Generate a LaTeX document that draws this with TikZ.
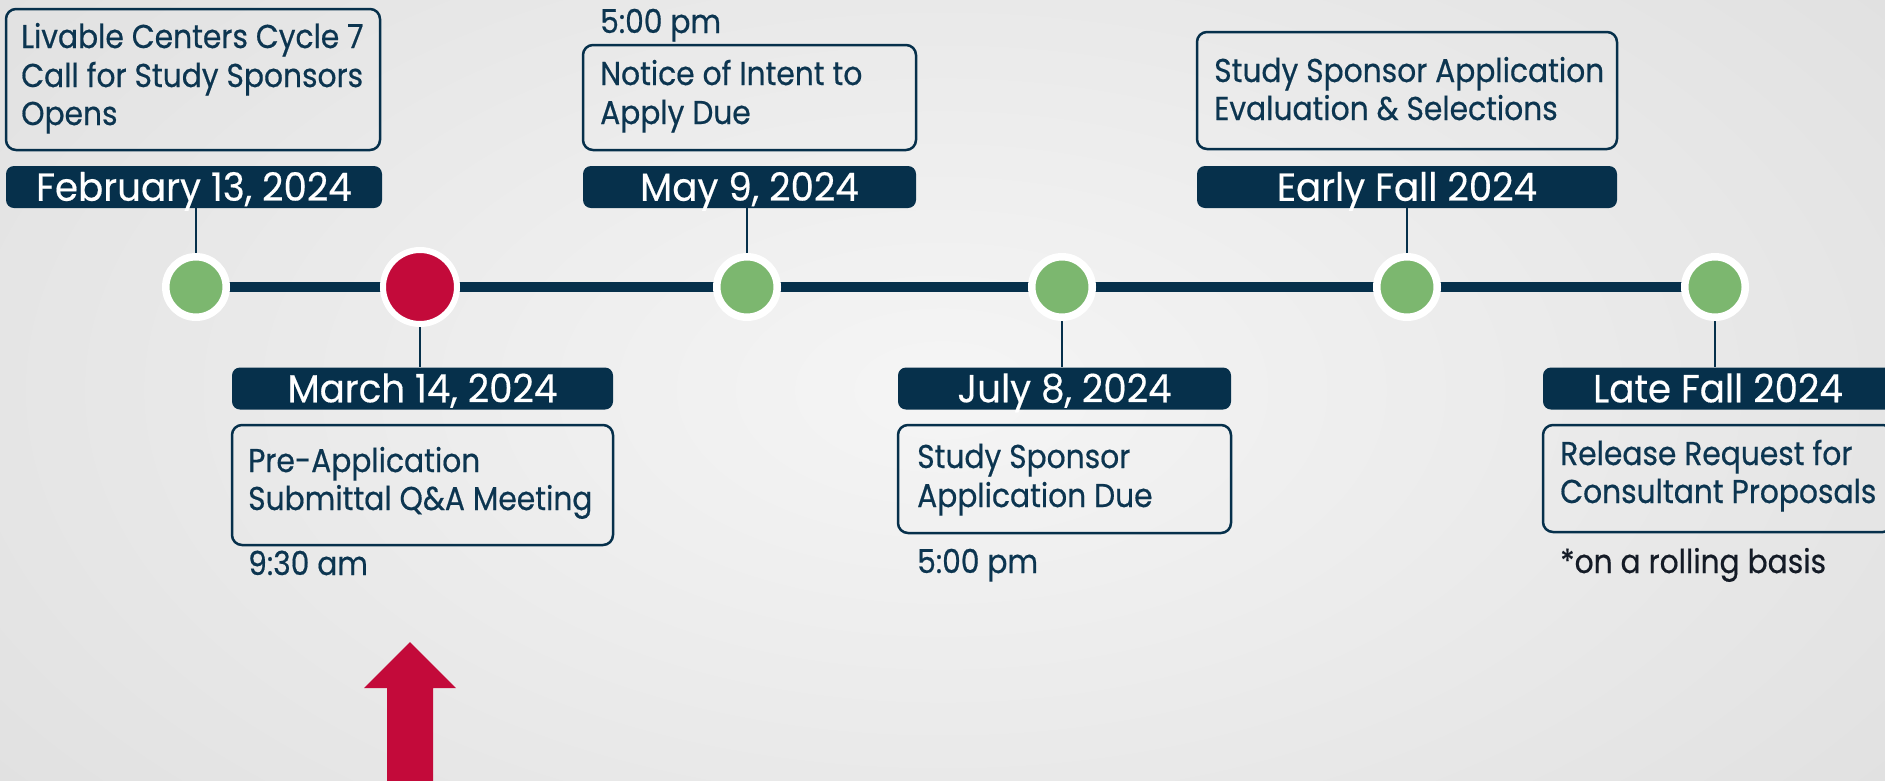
\documentclass[tikz,border=0pt]{standalone}
\usepackage{fontspec}
\setmainfont{Poppins}[FakeStretch=0.9, FakeBold=0.5]
\newfontfamily\datefam{Poppins}[FakeStretch=0.955, FakeBold=0.4]
\usetikzlibrary{backgrounds}
\definecolor{navy}{HTML}{06304B}
\definecolor{textnavy}{HTML}{0C3550}
\definecolor{dotgreen}{HTML}{7CB76F}
\definecolor{dotred}{HTML}{C30A3A}
\definecolor{bgin}{HTML}{F5F5F5}
\definecolor{bgout}{HTML}{E0E0E0}
\definecolor{notecol}{HTML}{141B26}
\pgfdeclarelayer{bglayer}
\pgfdeclarelayer{backlayer}
\pgfsetlayers{bglayer,backlayer,main}
\newcommand\boxfont{\fontsize{33}{38}\selectfont}
\newcommand\datefont{\datefam\fontsize{39}{44}\selectfont}
\begin{document}
\begin{tikzpicture}[x=1pt,y=-1pt,
  datebar/.style={fill=navy, rounded corners=8pt, inner sep=0pt, text=white,
    font=\datefont, text height=27.5pt, text depth=0pt, minimum height=42pt},
  evbox/.style={draw=navy, line width=2.5pt, rounded corners=10pt, inner sep=0pt},
  txt/.style={anchor=base west, inner sep=0pt, text=textnavy, font=\boxfont},
  gdot/.style={circle, fill=dotgreen, draw=white, line width=7.5pt, minimum size=60.5pt, inner sep=0pt},
  rdot/.style={circle, fill=dotred, draw=white, line width=6pt, minimum size=74pt, inner sep=0pt},
  conn/.style={draw=navy, line width=2.5pt},
  tline/.style={draw=navy, line width=10pt}
]
\useasboundingbox (0,0) rectangle (1885,780);
\begin{pgfonlayer}{bglayer}
\shade[inner color=bgin, outer color=bgout] (-300,-300) rectangle (2185,1080);
\end{pgfonlayer}

% timeline dots
\node[gdot] (c1) at (196,287) {};
\node[rdot] (c2) at (420,287) {};
\node[gdot] (c3) at (747,287) {};
\node[gdot] (c4) at (1062,287) {};
\node[gdot] (c5) at (1407,287) {};
\node[gdot] (c6) at (1715,287) {};

% date bars
\node[datebar, minimum width=376pt] (d1) at (194,187) {February 13, 2024};
\node[datebar, minimum width=381pt] (d2) at (422.5,388.5) {March 14, 2024};
\node[datebar, minimum width=333pt] (d3) at (749.5,187) {May 9, 2024};
\node[datebar, minimum width=333pt] (d4) at (1064.5,388.5) {July 8, 2024};
\node[datebar, minimum width=420pt] (d5) at (1407,187) {Early Fall 2024};
\node[datebar, minimum width=350pt] (d6) at (1718,388.5) {Late Fall 2024};

% event boxes
\node[evbox, minimum width=374pt, minimum height=141pt] (b1) at (193,79.5) {};
\node[evbox, minimum width=381pt, minimum height=120pt] (b2) at (422.5,485) {};
\node[evbox, minimum width=333pt, minimum height=105pt] (b3) at (749.5,97.5) {};
\node[evbox, minimum width=333pt, minimum height=108pt] (b4) at (1064.5,479) {};
\node[evbox, minimum width=420pt, minimum height=117pt] (b5) at (1407,90.5) {};
\node[evbox, minimum width=350pt, minimum height=107pt] (b6) at (1718,478.5) {};

% box texts
\node[txt] (t1a) at (21,48) {Livable Centers Cycle 7};
\node[txt] (t1b) at (21,87) {Call for Study Sponsors};
\node[txt] (t1c) at (21,125) {Opens};
\node[txt] (t2a) at (248,472) {Pre-Application};
\node[txt] (t2b) at (248,510) {Submittal Q\&A Meeting};
\node[txt] (t2c) at (248,575) {9:30 am};
\node[txt] (t3t) at (600,33) {5:00 pm};
\node[txt] (t3a) at (600,85) {Notice of Intent to};
\node[txt] (t3b) at (600,124) {Apply Due};
\node[txt] (t4a) at (917,468) {Study Sponsor};
\node[txt] (t4b) at (917,507) {Application Due};
\node[txt] (t4c) at (917,573) {5:00 pm};
\node[txt] (t5a) at (1214,82) {Study Sponsor Application};
\node[txt] (t5b) at (1214,120) {Evaluation \& Selections};
\node[txt] (t6a) at (1560,465) {Release Request for};
\node[txt] (t6b) at (1560,503) {Consultant Proposals};
\node[txt, text=notecol] (t6c) at (1560,573) {*on a rolling basis};

% line and connectors behind the dots
\begin{pgfonlayer}{backlayer}
\draw[tline] (c1.center) -- (c6.center);
\draw[conn] (d1.south -| c1) -- (c1.center);
\draw[conn] (c2.center) -- (c2 |- d2.north);
\draw[conn] (d3.south -| c3) -- (c3.center);
\draw[conn] (c4.center) -- (c4 |- d4.north);
\draw[conn] (d5.south -| c5) -- (c5.center);
\draw[conn] (c6.center) -- (c6 |- d6.north);
\end{pgfonlayer}

% red arrow
\fill[dotred] (410,642) -- (456,688) -- (433,688) -- (433,781) -- (387,781)
  -- (387,688) -- (364,688) -- cycle;
\end{tikzpicture}
\end{document}
